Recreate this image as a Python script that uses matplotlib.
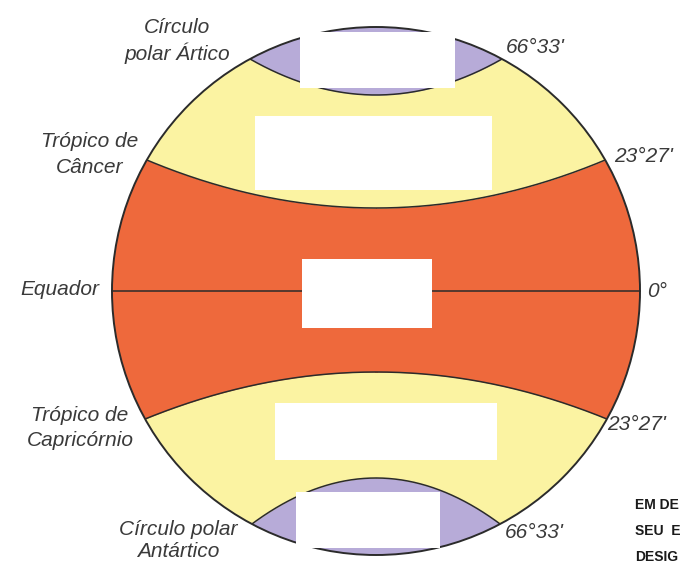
import numpy as np
import matplotlib.pyplot as plt
from matplotlib.patches import Circle, Rectangle

# zone boundaries: name, degree label, y where it meets the circle, y at the middle
boundary_names = ['Círculo\npolar Ártico', 'Trópico de\nCâncer', 'Trópico de\nCapricórnio', 'Círculo polar\nAntártico']
boundary_degrees = ["66°33'", "23°27'", "23°27'", "66°33'"]
boundary_edge_y = [59, 160, 419, 524]
boundary_mid_y = [95, 208, 372, 478]

# white answer boxes: x, y, width, height
boxes = [(300, 32, 155, 56), (255, 116, 237, 74), (302, 259, 130, 69),
         (275, 403, 222, 57), (296, 492, 144, 56)]

side_lines = ['EM DE', 'SEU  E', 'DESIG']

cx, cy, R = 376, 291, 264
purple = '#b7abd8'
yellow = '#fbf3a2'
orange = '#ee693c'
txt = '#3a3a3a'

fig = plt.figure(figsize=(6.8, 5.63), dpi=100)
ax = fig.add_axes([0, 0, 1, 1])
ax.set_xlim(0, 680)
ax.set_ylim(563, 0)
ax.axis('off')

globe = Circle((cx, cy), R, facecolor=yellow, edgecolor='none', zorder=1)
ax.add_patch(globe)


def curve(x, y_edge, y_mid):
    half = np.sqrt(R**2 - (y_edge - cy)**2)
    return y_mid + (y_edge - y_mid) * ((x - cx) / half)**2


x = np.linspace(cx - R - 5, cx + R + 5, 600)
arctic = curve(x, boundary_edge_y[0], boundary_mid_y[0])
cancer = curve(x, boundary_edge_y[1], boundary_mid_y[1])
capri = curve(x, boundary_edge_y[2], boundary_mid_y[2])
antarc = curve(x, boundary_edge_y[3], boundary_mid_y[3])

fills = [
    ax.fill_between(x, 0, arctic, color=purple, lw=0, zorder=2),
    ax.fill_between(x, cancer, capri, color=orange, lw=0, zorder=2),
    ax.fill_between(x, antarc, 563, color=purple, lw=0, zorder=2),
]
for f in fills:
    f.set_clip_path(globe)

for yy in [arctic, cancer, capri, antarc]:
    ln, = ax.plot(x, yy, color='#2b2b2b', lw=1.1, zorder=3)
    ln.set_clip_path(globe)

# equator
ax.plot([cx - R, cx + R], [cy, cy], color='#2b2b2b', lw=1.1, zorder=3)

ax.add_patch(Circle((cx, cy), R, facecolor='none', edgecolor='#2b2b2b', lw=1.4, zorder=4))

for bx, by, bw, bh in boxes:
    ax.add_patch(Rectangle((bx, by), bw, bh, facecolor='white', edgecolor='none', zorder=5))

font = dict(family='Liberation Sans', style='italic', fontsize=15, color=txt, va='baseline')

# name labels, one line at a time (centre x, first baseline, line gap)
name_pos = [(177, 33, 27), (90, 147, 26), (80, 421, 25), (178, 535, 22)]
for name, (nx, ny, gap) in zip(boundary_names, name_pos):
    for i, line in enumerate(name.split('\n')):
        ax.text(nx, ny + i * gap, line, ha='center', **font)

ax.text(99, 295, 'Equador', ha='right', **font)
ax.text(647, 297, '0°', ha='left', **font)

deg_pos = [(506, 53), (614, 162), (607, 430), (505, 538)]
for deg, (dx, dy) in zip(boundary_degrees, deg_pos):
    ax.text(dx, dy, deg, ha='left', **font)

side = dict(family='Liberation Sans', weight='bold', fontsize=10, color='#1a1a1a',
            ha='left', va='baseline')
for i, line in enumerate(side_lines):
    ax.text(635, 509 + i * 26, line, **side)

fig.savefig('out.png', dpi=100)
